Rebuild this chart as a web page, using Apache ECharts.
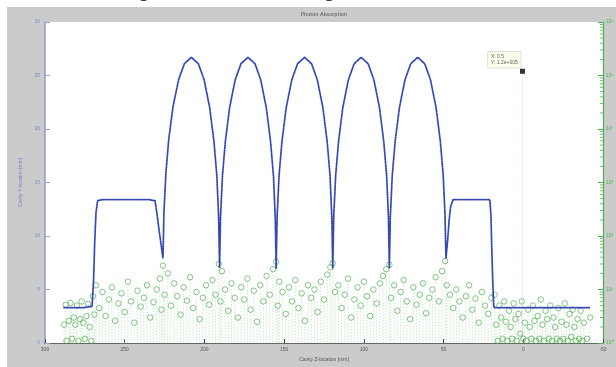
<!DOCTYPE html>
<html>
<head>
<meta charset="utf-8">
<script src="https://cdn.jsdelivr.net/npm/echarts@6/dist/echarts.min.js"></script>
<style>
  html, body {margin: 0; padding: 0; background: #fff;}
  #chart {width: 616px; height: 367px;}
</style>
</head>
<body>
<div id="chart"></div>
<script>
// cavity profile (left axis, mm)
const blueZ = [288, 284, 280, 276, 272, 270.5, 269.5, 268.8, 268, 267, 264, 255, 245, 235, 231,
  229.7, 228.5, 227.2, 226,
  225.4, 224.2, 222.4, 219.7, 216.2, 212.6, 208.2, 203.8, 200.2, 196.7, 194, 192.2, 191.1, 190.5,
  189.9, 188.7, 186.9, 184.2, 180.7, 177.1, 172.7, 168.3, 164.7, 161.2, 158.5, 156.7, 155.6, 155,
  154.4, 153.2, 151.4, 148.7, 145.2, 141.6, 137.2, 132.8, 129.2, 125.7, 123, 121.2, 120.1, 119.5,
  118.9, 117.7, 115.9, 113.2, 109.7, 106.1, 101.7, 97.3, 93.7, 90.2, 87.5, 85.7, 84.6, 84,
  83.4, 82.2, 80.4, 77.7, 74.2, 70.6, 66.2, 61.8, 58.2, 54.7, 52, 50.2, 49.1, 48.5,
  47.5, 46.5, 45.5, 44, 40, 30, 21, 20.3, 19.8, 19.2, 18.6, 18.3, 10, 0, -20, -42];
const blueY = [3.3, 3.3, 3.3, 3.3, 3.4, 3.4, 6, 9.5, 12.2, 13.3, 13.4, 13.4, 13.4, 13.4, 13.3,
  12, 10.6, 9.2, 7.9,
  12.2, 15.8, 19, 22.1, 24.6, 26.1, 26.7, 26.1, 24.6, 22, 18.8, 15.6, 11.8, 7.0,
  11.8, 15.6, 18.8, 22, 24.6, 26.1, 26.7, 26.1, 24.6, 22, 18.8, 15.6, 11.8, 7.0,
  11.8, 15.6, 18.8, 22, 24.6, 26.1, 26.7, 26.1, 24.6, 22, 18.8, 15.6, 11.8, 7.0,
  11.8, 15.6, 18.8, 22, 24.6, 26.1, 26.7, 26.1, 24.6, 22, 18.8, 15.6, 11.8, 7.0,
  11.8, 15.6, 18.8, 22, 24.6, 26.1, 26.7, 26.1, 24.6, 22, 18.8, 15.6, 12, 7.9,
  9.5, 11.5, 12.8, 13.4, 13.4, 13.4, 13.4, 12, 9, 6, 3.6, 3.3, 3.3, 3.3, 3.3, 3.3];

// absorbed intensity (right axis, log)
const greenZ = [288, 287, 286.5, 285, 284, 283, 282, 281, 280, 279, 278, 277, 276, 275, 274, 273, 272, 271, 270, 269,
  268, 266, 264, 262, 260, 258, 256, 254, 252, 250, 248, 246, 244, 242, 240, 238, 236, 234, 232, 230,
  228, 227, 226, 225, 223, 221, 219, 217, 215, 213, 211, 209, 207, 205, 203, 201, 199, 197, 195, 193,
  191, 190, 189, 187, 185, 183, 181, 179, 177, 175, 173, 171, 169, 167, 165, 163, 161, 159, 157, 155,
  154, 153, 151, 149, 147, 145, 143, 141, 139, 137, 135, 133, 131, 129, 127, 125, 123, 121, 119.5, 118,
  116, 114, 112, 110, 108, 106, 104, 102, 100, 98, 96, 94, 92, 90, 88, 86, 84, 83, 81, 79,
  77, 75, 73, 71, 69, 67, 65, 63, 61, 59, 57, 55, 53, 51, 49, 48, 46, 44, 42, 40,
  38, 36, 34, 32, 30, 28, 26, 24, 22, 20,
  18, 17, 16, 15, 14, 13, 12, 11, 10, 9, 8, 7, 6, 5, 4, 3, 2, 1, 0, -1,
  -2, -3, -4, -5, -6, -7, -8, -9, -10, -11, -12, -13, -14, -15, -16, -17, -18, -19, -20, -21,
  -22, -23, -24, -25, -26, -27, -28, -29, -30, -31, -32, -33, -34, -35, -36, -37, -38, -40, -42];
const greenVal = [2.2, 5.2, 1.1, 2.6, 5.6, 1.2, 3.0, 2.2, 5.0, 1.1, 2.8, 6.0, 2.4, 1.2, 3.2, 5.4, 2.0, 1.1, 7.5, 3.4,
  12, 4.5, 9, 3.2, 6.5, 11, 2.6, 5.5, 8.5, 3.8, 14, 6, 2.4, 9.5, 4.8, 7, 12, 3, 5.8, 10,
  16, 4.2, 28, 8, 20, 5, 13, 7.5, 3.4, 11, 6.2, 17, 4.5, 9, 2.8, 7, 12, 5.2, 15, 8,
  30, 6, 22, 10, 4, 13, 7, 3, 11, 6.5, 16, 4.2, 9.5, 2.5, 12, 6, 18, 8, 24, 33,
  5, 14, 9, 3.5, 11, 6, 15, 4.5, 8.5, 2.6, 12, 7, 10, 3.8, 14, 6.5, 19, 26, 31, 9,
  12, 4.5, 8, 16, 3, 6.5, 11, 5, 14, 7.5, 3.2, 10, 5.5, 13, 18, 24, 29, 7, 12, 4,
  9, 15, 6, 2.8, 11, 5.2, 8, 13, 3.6, 7, 10, 17, 6, 22, 34, 12, 8, 4.5, 10, 6,
  3, 7.5, 12, 4.2, 6.8, 2.4, 9, 5, 3.5, 7,
  8, 2.2, 1.1, 5, 3, 1.2, 6, 2.5, 1.1, 4, 2, 1.2, 5.5, 2.8, 1.1, 3.5, 1.5, 6, 1.2, 2.4,
  1.1, 4.2, 2, 1.2, 5, 2.6, 1.1, 3.2, 1.2, 6.5, 2.2, 1.1, 4, 2.8, 1.2, 5, 1.1, 3, 2, 1.2,
  4.5, 1.1, 2.5, 1.2, 5.5, 2.2, 1.1, 3.5, 1.3, 4.2, 2, 1.1, 2.8, 1.2, 4, 1.1, 2.4, 1.2, 3];

// data tip
const tipZ = [0.5];
const tipVal = [1.2e5];
const tipText = ['X: 0.5', 'Y: 1.2e+005'];

const xTicks = {min: -50, max: 300, interval: 50};
const minorVals = [];
[1, 10, 100, 1000, 1e4, 1e5].forEach(d => [2, 3, 4, 5, 6, 7, 8, 9].forEach(m => minorVals.push(d * m)));
const sup = {'0': '\u2070', '1': '\u00b9', '2': '\u00b2', '3': '\u00b3', '4': '\u2074', '5': '\u2075', '6': '\u2076'};

const green = '#4cb04c';
const blue = '#3446b4';
const chart = echarts.init(document.getElementById('chart'));

const stemData = greenZ.map((z, i) => [z, greenVal[i]]).concat(tipZ.map((z, i) => [z, tipVal[i]]));

chart.setOption({
  backgroundColor: '#cbcbcb',
  animation: false,
  graphic: [
    {type: 'rect', shape: {x: 0, y: 0, width: 616, height: 7}, style: {fill: '#fff'}},
    {type: 'rect', shape: {x: 0, y: 0, width: 7, height: 367}, style: {fill: '#fff'}},
    {type: 'text', x: 40, y: -9, style: {text: 'number in figure 3 above is meaningless.', font: '20px "Liberation Serif"', fill: '#000', verticalAlign: 'middle'}},
    {type: 'text', x: 324, y: 15, style: {text: 'Photon Absorption', font: '5px "DejaVu Sans"', fill: '#444', align: 'center', verticalAlign: 'middle'}}
  ],
  grid: {left: 45, right: 13, top: 22, bottom: 24, show: true, backgroundColor: '#fff', borderWidth: 0,
    outerBoundsMode: 'none', containLabel: false},
  xAxis: {
    type: 'value', inverse: true, min: xTicks.min, max: xTicks.max, interval: xTicks.interval,
    name: 'Cavity Z-location [mm]', nameLocation: 'middle', nameGap: 12,
    nameTextStyle: {fontSize: 5, color: '#555'},
    axisLine: {onZero: false, lineStyle: {color: '#666', width: 1}},
    axisTick: {inside: true, length: 4, lineStyle: {color: '#444'}},
    axisLabel: {fontSize: 5, color: '#555', margin: 4},
    splitLine: {show: false}
  },
  yAxis: [
    {
      type: 'value', min: 0, max: 30, interval: 5, position: 'left',
      name: 'Cavity Y-location [mm]', nameLocation: 'middle', nameGap: 12,
      nameTextStyle: {fontSize: 5, color: '#7e88c8'},
      axisLine: {show: true, onZero: false, lineStyle: {color: '#8f98d8', width: 1.5}},
      axisTick: {show: true, inside: true, length: 5, lineStyle: {color: '#9aa2dc'}},
      axisLabel: {fontSize: 5, color: '#7e88c8', margin: 5},
      splitLine: {show: false}
    },
    {
      type: 'log', logBase: 10, min: 1, max: 1e6, position: 'right',
      name: 'Intensity [a.u.]', nameLocation: 'middle', nameGap: 10,
      nameTextStyle: {fontSize: 5, color: green},
      axisLine: {show: true, onZero: false, lineStyle: {color: green, width: 1.2}},
      axisTick: {show: true, inside: true, length: 5, lineStyle: {color: green}},
      axisLabel: {fontSize: 5, color: green, margin: 3,
        formatter: v => '10' + sup[String(Math.round(Math.log10(v)))]},
      splitLine: {show: false}
    }
  ],
  series: [
    {
      type: 'custom', yAxisIndex: 1, z: 1, silent: true,
      data: stemData,
      encode: {x: 0, y: 1},
      renderItem(params, api) {
        const top = api.coord([api.value(0), api.value(1)]);
        const bot = api.coord([api.value(0), 1]);
        return {type: 'line', shape: {x1: top[0], y1: top[1] + 2.5, x2: bot[0], y2: bot[1]},
          style: {stroke: '#a6d9a6', lineWidth: 0.6, lineDash: [1.5, 1.5]}};
      }
    },
    {
      type: 'scatter', yAxisIndex: 1, z: 2,
      data: greenZ.map((z, i) => [z, greenVal[i]]),
      symbol: 'circle', symbolSize: 5.5,
      itemStyle: {color: 'rgba(255,255,255,0)', borderColor: '#3da63d', borderWidth: 0.8}
    },
    {
      type: 'line', yAxisIndex: 0, z: 3,
      data: blueZ.map((z, i) => [z, blueY[i]]),
      showSymbol: false, symbol: 'none',
      lineStyle: {color: blue, width: 1.8, type: [1, 1.4], cap: 'round'}
    },
    {
      type: 'custom', yAxisIndex: 1, z: 4, silent: true,
      data: minorVals,
      encode: {y: 0},
      renderItem(params, api) {
        const p = api.coord([xTicks.min, api.value(0)]);
        return {type: 'line', shape: {x1: p[0] - 3, y1: p[1], x2: p[0], y2: p[1]},
          style: {stroke: green, lineWidth: 0.8}};
      }
    },
    {
      type: 'scatter', yAxisIndex: 1, z: 5,
      data: tipZ.map((z, i) => [z, tipVal[i]]),
      symbol: 'rect', symbolSize: 5,
      itemStyle: {color: '#000'},
      label: {
        show: true, position: [-32, -17],
        formatter: tipText.join('\n'),
        fontSize: 5, lineHeight: 6, color: '#333',
        backgroundColor: '#fdfde8', borderColor: '#bbb', borderWidth: 0.5, padding: [2, 3]
      }
    }
  ]
});
</script>
</body>
</html>
